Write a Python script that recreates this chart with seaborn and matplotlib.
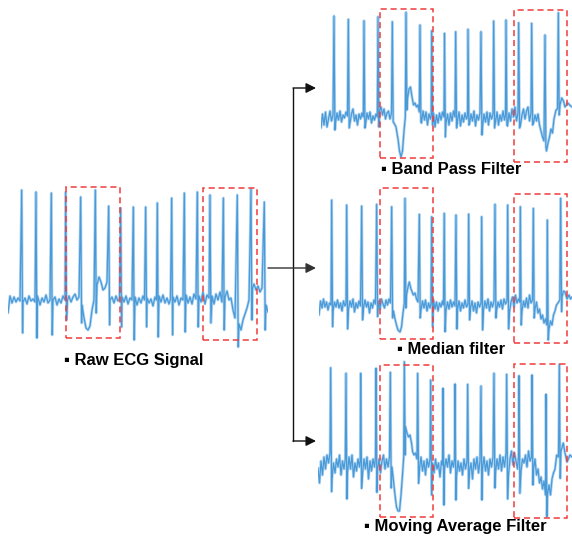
import pandas as pd
import seaborn as sns
import matplotlib.pyplot as plt
from matplotlib.patches import Rectangle

sns.set_theme(style="white")
plt.rcParams['font.family'] = ['Liberation Sans', 'DejaVu Sans']

# --- donnees : position du battement, pic R, creux S ---
raw_beat_t = [13.7, 28, 43.3, 57.7, 72.7, 87.3, 100.7, 112.7, 125.3, 137.7,
              149.3, 163.7, 176.3, 189.3, 202, 215.3, 229.3, 243, 256.3]
raw_beat_r = [110, 108, 107, 108, 103, 110, 94, 92, 93, 93,
              97, 102, 107, 108, 105, 102, 105, 111, 98]
raw_beat_s = [-33, -38, -35, -20, -23, -13, -25, -27, -40, -27,
              -37, -35, -32, -27, -23, -30, -47, -20, -30]
raw_baseline = [
    (0, -13), (2, 4), (4, -3), (6, 3), (8, -2), (10, 2), (12, -1),
    (15, -2), (17, 2), (19, -4), (21, 4), (23, -1), (25, 1), (27, -2),
    (29.5, 4), (32, -5), (34, 2), (36, -2), (38, 5), (40, -3), (42, 0),
    (45, 0), (47, 3), (49, -5), (51, 1), (53, -3), (55, 4), (57, 0),
    (59.5, 0), (61, 4), (63, -2), (65, 3), (67, 6), (69, 0), (71, 3),
    (74, -5), (76, -18), (78, -28), (80, -30), (82, -26), (84, -10), (86, 0),
    (89, 15), (91, 23), (93, 18), (95, 10), (97, 12), (99, 18),
    (102, 0), (104, 3), (106, -3), (108, 4), (110, -1), (111.5, 1),
    (114, 3), (116, -2), (118, 4), (120, -4), (122, 2), (124, 0),
    (127, 3), (129, -5), (131, 2), (133, -3), (135, 4), (136.5, 0),
    (139, 2), (141, -3), (143, 1), (145, -6), (147, 3), (148.5, 0),
    (151, 4), (153, -2), (155, 5), (157, -3), (159, 2), (161, -4), (162.5, 1),
    (165, 3), (167, -2), (169, 4), (171, -5), (173, 2), (175, 0),
    (178, 5), (180, -3), (182, 3), (184, -4), (186, 6), (188, 1),
    (191, 4), (193, -2), (195, 8), (197, -4), (199, 5), (201, 2),
    (204, 4), (206, -4), (208, 6), (210, 0), (212, 8), (214, -2),
    (217, 3), (219, 9), (221, 0), (223, 2), (225, -10), (227, -18),
    (231, -24), (233, -30), (235, -20), (237, -14), (239, -8), (241, 0),
    (244.5, 12), (246, 16), (248, 10), (250, 14), (252, 8), (254, 12),
    (258, -5), (260, -12),
]

bp_beat_t = [13, 27.3, 43, 57, 71.3, 85, 99, 110.7, 123.5, 134.7,
             147, 160, 172.7, 185, 197.7, 210.7, 224, 237.3]
bp_beat_r = [101, 97.7, 96.3, 100.3, 95.3, 104.7, 92, 86.3, 83.7, 85.3,
             87.7, 85.3, 96, 97, 94.3, 93.7, 82, 104.3]
bp_beat_s = [-13, -11, -11, -10, -5, 7, -5, -8, -20, -11,
             -8, -18, -11, -8, -11, -8, -30, 2]
bp_baseline = [
    (0, -11), (1.5, 3), (3, -8), (4.5, 5), (6, -10), (7.5, -2), (9, 6), (10.5, -4), (12, 2),
    (14.5, -6), (16, 4), (17.5, -3), (19, 6), (20.5, -5), (22, 2), (23.5, -1), (25, 5), (26.5, 1),
    (29, -6), (30.5, 3), (32, 8), (33.5, -4), (35, 2), (36.5, -8), (38, 3), (39.5, -2), (41, 4), (42.3, 0),
    (44.5, -8), (46, 4), (47.5, -2), (49, 5), (50.5, -6), (52, 1), (53.5, -3), (55, 3), (56.3, 0),
    (58.5, 6), (60, 10), (61.5, 2), (63, 8), (64.5, -2), (66, 4), (67.5, 6), (69, -2), (70.5, 4),
    (73, -6), (75, -10), (77, -22), (78.5, -34), (80, -40), (81.5, -34), (83, -14), (84.3, 0),
    (86.5, 18), (88, 28), (89.5, 30), (91, 20), (92.5, 12), (94, 14), (95.5, 10), (97, 12), (98.3, 5),
    (100.5, -6), (102, 6), (103.5, -3), (105, 5), (106.5, -8), (108, 3), (109.5, -2), (110.2, 2),
    (112.5, 4), (114, -10), (115.5, 2), (117, -6), (118.5, 4), (120, -3), (121.5, 5), (123, 0),
    (125, -6), (126.5, 3), (128, -8), (129.5, 4), (131, -4), (132.5, 6), (134, 0),
    (136.5, -4), (138, 5), (139.5, -9), (141, 2), (142.5, -5), (144, 4), (145.5, -2), (146.5, 1),
    (148.5, -7), (150, 3), (151.5, -4), (153, 6), (154.5, -9), (156, 2), (157.5, -3), (159, 4),
    (161.5, -10), (163, 3), (164.5, -5), (166, 5), (167.5, -8), (169, 4), (170.5, -2), (172, 3),
    (174.5, -5), (176, 5), (177.5, -8), (179, 2), (180.5, -4), (182, 6), (183.5, -3), (184.5, 2),
    (186.5, -9), (188, 4), (189.5, -4), (191, 8), (192.5, 0), (194, 10), (195.5, -4), (197, 4),
    (199.5, -8), (201, 2), (202.5, 8), (204, -2), (205.5, 6), (207, 10), (208.5, -4), (210, 4),
    (212.5, -6), (214, 2), (215.5, -4), (217, 3), (218.5, -8), (220, -14), (221.5, -20), (223, -24),
    (225.5, -34), (227, -26), (228.5, -20), (230, -12), (231.5, -16), (233, -2), (235, 7), (236.5, 8),
    (239, 12), (240.7, 19), (242.5, 16), (244, 10), (246.7, 14), (249.7, 11), (251, 10),
]

md_beat_t = [12.7, 27.7, 42.7, 57.7, 72.7, 86, 100.3, 112.7, 125.2, 137,
             149.7, 162.7, 176, 188.7, 201.3, 214.3, 228.3, 241.7]
md_beat_r = [105, 100, 99, 100.7, 98.3, 106.7, 90.7, 88.3, 91.7, 90,
             91, 88.3, 100.7, 100, 98.3, 96.7, 85, 106.7]
md_beat_s = [-21.7, -24, -15, -11.7, -13, -3, -13, -21.7, -26.7, -24,
             -15, -25, -13, -24, -20, -13, -35, -6.7]
md_baseline = [
    (0, -10), (1.5, 4), (3, -3), (4.5, 6), (6, -2), (7.5, 3), (9, -5), (10.5, 2), (12, 0),
    (14, -6), (15.5, 3), (17, -2), (18.5, 5), (20, -3), (21.5, 2), (23, -6), (24.5, 4), (26, -1), (27, 1),
    (29.5, -4), (31, 4), (32.5, -2), (34, 6), (35.5, -7), (37, 2), (38.5, -3), (40, 4), (41.5, -1),
    (44.5, -3), (46, 5), (47.5, -2), (49, 3), (50.5, -8), (52, 2), (53.5, -3), (55, 5), (56.5, 1),
    (59.5, 4), (61, -4), (62.5, 6), (64, 1), (65.5, -3), (67, 5), (68.5, 0), (70, 6), (71.5, 2),
    (74.5, -6), (76, -14), (77.5, -20), (79, -25), (81, -27), (82.5, -22), (84, -8), (85.3, 2),
    (87.5, 10), (89, 18), (90.3, 23), (92, 16), (94.3, 10), (96, 12), (97.5, 6), (99, 3),
    (102, -5), (103.5, 4), (105, -3), (106.5, 5), (108, -6), (109.5, 2), (111, -3), (112, 1),
    (114.5, 5), (116, -4), (117.5, 3), (119, -6), (120.5, 2), (122, -2), (123.5, 4), (124.5, 0),
    (127, -5), (128.5, 3), (130, -4), (131.5, 5), (133, -2), (134.5, 3), (136, -1),
    (138.5, -4), (140, 4), (141.5, -6), (143, 2), (144.5, -3), (146, 5), (147.5, -2), (149, 1),
    (151.5, -3), (153, 4), (154.5, -6), (156, 2), (157.5, -8), (159, 3), (160.5, -2), (162, 2),
    (164.5, -5), (166, 4), (167.5, -3), (169, 6), (170.5, -6), (172, 3), (173.5, -2), (175, 4),
    (177.5, -6), (179, 3), (180.5, -2), (182, 5), (183.5, -4), (185, 6), (186.5, 1), (188, 4),
    (190.5, -7), (192, 3), (193.5, 8), (195, -2), (196.5, 10), (198, 2), (199.5, 6), (200.7, 3),
    (203, -6), (204.5, 4), (206, -2), (207.5, 7), (209, -3), (210.5, 10), (212, 2), (213.5, 5),
    (216, -4), (217.5, 3), (219, -8), (220.5, -4), (222, -14), (223.5, -10), (225, -18), (226.5, -14), (227.8, -20),
    (230, -24), (231.5, -16), (233, -20), (234.5, -10), (236, -6), (237.5, 0), (239, 2), (240.8, 5),
    (243, 8), (244.5, 14), (246, 13), (248, 6), (250, 10), (251.5, 6), (253, 8),
]

ma_beat_t = [12.7, 28, 42.7, 58, 72.3, 86.3, 99.7, 112.7, 125, 137,
             149.7, 163, 176, 188.7, 201, 214, 228, 241.3]
ma_beat_r = [97.3, 91.7, 91.7, 96.7, 92.7, 103.3, 91.7, 85, 76.7, 81,
             80.7, 79, 91.7, 90.7, 89.3, 90, 70.7, 100.7]
ma_beat_s = [-26.7, -34, -23.3, -27.3, -23, 10, -18.3, -30, -40, -35,
             -23.3, -35, -23, -34, -28.3, -20, -51.7, -13.3]
ma_baseline = [
    (0, -3), (1.5, -18), (3, 4), (4.5, -10), (6, 8), (7.5, -4), (9, 10), (10.5, 2), (12, 12),
    (14, -14), (15.5, 2), (17, -8), (18.5, 6), (20, -2), (21.5, 10), (23, -10), (24.5, 4), (26, -4), (27.3, 6),
    (29.5, -8), (31, 8), (32.5, -4), (34, 10), (35.5, -12), (37, 2), (38.5, -6), (40, 6), (41.5, -2), (42.2, 4),
    (44.5, -10), (46, 6), (47.5, -4), (49, 8), (50.5, -14), (52, 4), (53.5, -6), (55, 6), (56.5, -2), (57.5, 8),
    (59.5, -6), (61, 6), (62.5, -8), (64, 4), (65.5, 10), (67, -4), (68.5, 6), (70, -2), (71.5, 8),
    (74, -2), (75.5, -16), (77, -30), (78.5, -42), (80, -46), (81.5, -46), (83, -30), (84.5, -10), (85.7, 8),
    (87.5, 38), (89, 32), (90.5, 28), (92, 30), (93.5, 22), (94.7, 13), (96, 10), (97.5, 12), (99, 6),
    (101.5, -4), (103, 8), (104.5, -6), (106, 4), (107.5, -10), (109, 6), (110.5, -2), (112, 6),
    (114.5, 2), (116, -8), (117.5, 6), (119, -4), (120.5, 2), (122, -12), (123.5, 4), (124.5, 0),
    (126.5, -4), (128, 6), (129.5, -2), (131, 10), (132.5, -8), (134, 4), (135.5, -2), (136.5, 6),
    (138.5, -12), (140, 4), (141.5, -6), (143, 2), (144.5, -10), (146, 6), (147.5, -4), (149, 4),
    (151.5, -6), (153, 2), (154.5, -14), (156, 6), (157.5, -4), (159, 8), (160.5, -8), (162, 4),
    (164.5, -4), (166, 8), (167.5, -6), (169, 4), (170.5, -10), (172, 6), (173.5, -2), (175, 8),
    (177.5, -8), (179, 6), (180.5, -4), (182, 10), (183.5, -6), (185, 8), (186.5, -2), (188, 12),
    (190.5, -10), (192, 6), (193.5, 14), (195, 0), (196.5, 12), (198, 4), (199.5, -4), (200.5, 8),
    (203, -6), (204.5, 6), (206, 2), (207.5, 10), (209, -2), (210.5, 14), (212, 4), (213.5, 8),
    (215.5, -4), (217, 6), (218.5, -10), (220, -4), (221.5, -18), (223, -12), (224.5, -24), (226, -16), (227.5, -30),
    (229.5, -30), (231, -20), (232.5, -30), (234, -14), (235.5, -8), (237, -4), (238.7, 10), (240.5, 8),
    (243, 14), (245.3, 22), (247, 12), (249, 3), (252, 10), (254, 8),
]

# zones encadrees en rouge (debut, fin, haut, bas) en unites du signal
raw_boxes = [(58, 112, 113, -38), (195.3, 248.7, 112, -40)]
bp_boxes = [(59, 112.3, 108, -41), (193.3, 246.3, 107, -45)]
md_boxes = [(61, 114.3, 117, -34), (195, 248.3, 111, -38)]
ma_boxes = [(62, 115.3, 100, -51.7), (196, 249.3, 100.7, -52.7)]

titles = ['Raw ECG Signal', 'Band Pass Filter', 'Median filter', 'Moving Average Filter']

W, H = 572, 538
fig = plt.figure(figsize=(W / 100, H / 100), dpi=100)
fig.patch.set_facecolor('white')


def build_signal(beat_t, beat_r, beat_s, baseline):
    rows = list(baseline)
    for t, r, s in zip(beat_t, beat_r, beat_s):
        rows.append((t, r))
        rows.append((t + 0.9, s))
    return pd.DataFrame(rows, columns=['t', 'amp']).sort_values('t')


def draw_panel(px_box, xlim, ylim, df, boxes):
    l, t, r, b = px_box
    ax = fig.add_axes([l / W, 1 - b / H, (r - l) / W, (b - t) / H])
    sns.lineplot(data=df, x='t', y='amp', ax=ax, estimator=None, sort=False,
                 color='#b2d6f2', lw=2.0)
    sns.lineplot(data=df, x='t', y='amp', ax=ax, estimator=None, sort=False,
                 color='#4b9ad8', lw=0.9)
    for x0, x1, top, bot in boxes:
        ax.add_patch(Rectangle((x0, bot), x1 - x0, top - bot, fill=False,
                               edgecolor='#f03c3c', lw=1.1, ls=(0, (4, 2.5)),
                               clip_on=False, zorder=5))
    ax.set_xlim(*xlim)
    ax.set_ylim(*ylim)
    ax.axis('off')
    return ax


draw_panel((8, 185, 268, 350), (0, 260), (-50, 115),
           build_signal(raw_beat_t, raw_beat_r, raw_beat_s, raw_baseline), raw_boxes)
draw_panel((321, 5, 572, 165), (0, 251), (-48, 112),
           build_signal(bp_beat_t, bp_beat_r, bp_beat_s, bp_baseline), bp_boxes)
draw_panel((319, 185, 572, 345), (0, 253), (-40, 120),
           build_signal(md_beat_t, md_beat_r, md_beat_s, md_baseline), md_boxes)
draw_panel((318, 355, 572, 520), (0, 254), (-55, 110),
           build_signal(ma_beat_t, ma_beat_r, ma_beat_s, ma_baseline), ma_boxes)

# calque de mise en page : fleches et legendes
ov = fig.add_axes([0, 0, 1, 1], facecolor='none')
ov.set_xlim(0, W)
ov.set_ylim(H, 0)
ov.axis('off')

arrow = dict(arrowstyle='-|>', color='#111111', lw=1.0, mutation_scale=15,
             shrinkA=0, shrinkB=0)
ov.annotate('', xy=(316, 268), xytext=(268, 268),
            arrowprops=dict(arrow, color='#333333'))
ov.plot([293, 293], [88, 441], color='#111111', lw=1.0)
ov.annotate('', xy=(316, 88), xytext=(293, 88), arrowprops=arrow)
ov.annotate('', xy=(316, 441), xytext=(293, 441), arrowprops=arrow)

label_pos = [(134, 361), (451, 170), (451, 349), (455, 526)]
for (x, y), txt in zip(label_pos, titles):
    ov.text(x, y, '\u25aa ' + txt, ha='center', va='center', fontsize=12,
            fontweight='bold', color='black',
            family=['Liberation Sans', 'DejaVu Sans'])

plt.savefig('out.png', dpi=100, facecolor='white')
plt.close()
